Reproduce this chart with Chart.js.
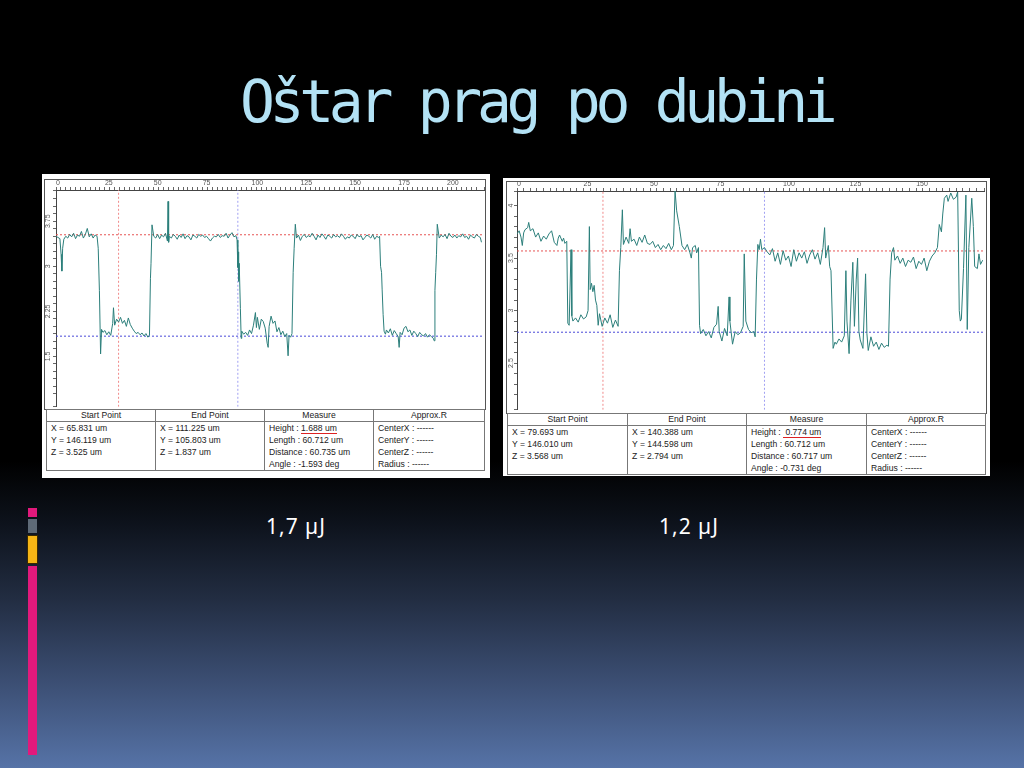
<!DOCTYPE html>
<html>
<head>
<meta charset="utf-8">
<script src="https://cdn.jsdelivr.net/npm/chart.js"></script>
<style>
  html, body { margin: 0; padding: 0; }
  body {
    width: 1024px; height: 768px; position: relative; overflow: hidden;
    background: linear-gradient(to bottom, #000 0%, #000 60%, #0d121b 68%, #222d42 78%, #3c4f74 89%, #5673a7 100%);
    font-family: "Liberation Sans", Arial, sans-serif;
  }
  .title {
    position: absolute; left: 240px; top: 73px;
    font-family: "DejaVu Sans Mono", monospace; font-size: 58px; line-height: 58px;
    letter-spacing: -5.3px; color: #b3e2f5; white-space: nowrap;
  }
  .panel { position: absolute; background: #fff; }
  .frame { position: absolute; border: 1px solid #555; box-sizing: border-box; }
  canvas { position: absolute; }
  table.meas {
    position: absolute; border-collapse: collapse; font-size: 8.6px; color: #222;
    table-layout: fixed; background: #fff;
  }
  table.meas td, table.meas th { border-left: 1px solid #777; border-right: 1px solid #777; padding: 0 4px; vertical-align: top; white-space: nowrap; }
  table.meas th { font-weight: normal; text-align: center; border: 1px solid #777; height: 11px; line-height: 11px; }
  table.meas td { line-height: 12px; padding-top: 0; }
  table.meas tr.body td { border-bottom: 1px solid #777; }
  .ul { border-bottom: 1px solid #d22; }
  .cap { position: absolute; color: #fff; font-family: "Noto Sans", sans-serif; font-size: 21px; line-height: 22px; letter-spacing: 1px; }
  .deco { position: absolute; }
</style>
</head>
<body>
<div class="title">Oštar prag po dubini</div>

<div class="deco" style="left:28px;top:508px;width:9px;height:9px;background:#e2197c"></div>
<div class="deco" style="left:28px;top:519px;width:9px;height:14px;background:#5e6a77"></div>
<div class="deco" style="left:28px;top:536px;width:9px;height:27px;background:#f6b515;box-shadow:0 0 0 1px #3a2a00"></div>
<div class="deco" style="left:28px;top:566px;width:9px;height:189px;background:#e2197c"></div>

<div class="panel" style="left:42px;top:174px;width:448px;height:304px"></div>
<div class="frame" style="left:44px;top:179px;width:442px;height:231px"></div>
<canvas id="leftChart" width="442" height="230" style="left:44px;top:179px"></canvas>
<table class="meas" style="left:46px;top:409px;width:438px">
  <colgroup><col style="width:109px"><col style="width:109px"><col style="width:109px"><col style="width:111px"></colgroup>
  <tr><th>Start Point</th><th>End Point</th><th>Measure</th><th>Approx.R</th></tr>
  <tr class="body">
    <td>X = 65.831 um<br>Y = 146.119 um<br>Z = 3.525 um<br>&nbsp;</td>
    <td>X = 111.225 um<br>Y = 105.803 um<br>Z = 1.837 um<br>&nbsp;</td>
    <td>Height : <span class="ul">1.688 um</span><br>Length : 60.712 um<br>Distance : 60.735 um<br>Angle : -1.593 deg</td>
    <td>CenterX : ------<br>CenterY : ------<br>CenterZ : ------<br>Radius : ------</td>
  </tr>
</table>

<div class="panel" style="left:503px;top:178px;width:487px;height:298px"></div>
<div class="frame" style="left:506px;top:181px;width:481px;height:233px"></div>
<canvas id="rightChart" width="481" height="232" style="left:505px;top:180px"></canvas>
<table class="meas" style="left:507px;top:413px;width:478px">
  <colgroup><col style="width:120px"><col style="width:119px"><col style="width:120px"><col style="width:119px"></colgroup>
  <tr><th>Start Point</th><th>End Point</th><th>Measure</th><th>Approx.R</th></tr>
  <tr class="body">
    <td>X = 79.693 um<br>Y = 146.010 um<br>Z = 3.568 um<br>&nbsp;</td>
    <td>X = 140.388 um<br>Y = 144.598 um<br>Z = 2.794 um<br>&nbsp;</td>
    <td>Height : <span class="ul">&nbsp;0.774 um</span><br>Length : 60.712 um<br>Distance : 60.717 um<br>Angle : -0.731 deg</td>
    <td>CenterX : ------<br>CenterY : ------<br>CenterZ : ------<br>Radius : ------</td>
  </tr>
</table>

<div class="cap" style="left:266px;top:515px">1,7 µJ</div>
<div class="cap" style="left:659px;top:515px">1,2 µJ</div>

<script>
// profile readings, [position, height]
var leftProfile = [
  [0,3.50],[1,3.48],[2,3.46],[2.6,3.2],[3,2.92],[3.4,3.3],[4,3.45],[5,3.50],[6,3.47],[7,3.53],[8,3.49],[9,3.55],
  [10,3.46],[11,3.52],[12,3.50],[13,3.58],[14,3.47],[15,3.53],[16,3.63],[17,3.49],[18,3.54],[19,3.47],[20,3.52],
  [21,3.50],[21.6,3.30],[22.2,2.60],[22.8,1.54],[23.3,1.95],[24,1.90],[25,1.93],[26,1.86],[27,1.91],[28,1.85],
  [29,2.05],[29.4,2.31],[30,2.02],[31,2.12],[32,2.07],[33,2.15],[34,2.05],[35,2.10],[36,2.00],[37,2.14],[38,2.03],
  [39,1.97],[40,1.92],[41,1.88],[42,1.90],[43,1.86],[44,1.89],[45,1.84],[46,1.88],[47,1.82],[47.8,1.85],
  [48.3,2.8],[48.6,3.05],[49.1,3.69],[50,3.50],[51,3.47],[52,3.53],[53,3.46],[54,3.52],[55,3.49],[56,3.55],
  [57,3.42],[57.3,4.08],[57.6,3.40],[58,3.50],[59,3.47],[60,3.53],[61,3.50],[62,3.45],[63,3.52],[64,3.48],
  [65,3.54],[66,3.46],[67,3.51],[68,3.49],[69,3.44],[70,3.52],[71,3.50],[72,3.47],[73,3.53],[74,3.50],[75,3.52],
  [76,3.48],[77,3.50],[78,3.46],[79,3.42],[80,3.47],[81,3.50],[82,3.49],[83,3.53],[84,3.48],[85,3.51],[86,3.50],
  [87,3.55],[88,3.47],[89,3.52],[90,3.56],[91,3.49],[92,3.51],[92.6,3.44],[93,2.98],[93.2,3.24],[93.4,2.75],
  [93.7,3.05],[94.3,2.30],[94.7,1.80],[95,1.92],[96,1.87],[97,1.90],[98,1.85],[99,1.94],[100,1.88],[101,2.02],
  [102,2.23],[102.5,1.98],[103,2.15],[104,1.95],[105,2.12],[106,2.08],[107,1.97],[108,1.72],[108.5,1.65],
  [109,2.00],[110,2.17],[111,2.05],[112,2.09],[113,1.91],[114,1.98],[115,1.86],[116,1.92],[117,1.83],[118,1.88],
  [118.7,1.51],[119.2,1.85],[120,1.82],[120.7,1.88],[121.3,2.9],[121.8,3.3],[122.4,3.70],[123,3.47],[124,3.52],
  [125,3.43],[126,3.50],[127,3.53],[128,3.48],[129,3.51],[130,3.49],[131,3.55],[132,3.50],[133,3.44],[134,3.52],
  [135,3.48],[136,3.54],[137,3.50],[138,3.45],[139,3.52],[140,3.50],[141,3.47],[142,3.53],[143,3.49],[144,3.51],
  [145,3.48],[146,3.54],[147,3.50],[148,3.45],[149,3.49],[150,3.47],[151,3.52],[152,3.50],[153,3.46],[154,3.53],
  [155,3.49],[156,3.51],[157,3.44],[158,3.48],[159,3.52],[160,3.50],[161,3.47],[162,3.53],[163,3.45],[164,3.50],
  [165,3.48],[165.5,3.50],[166,3.0],[166.5,2.9],[166.8,2.62],[167.3,2.20],[167.8,1.92],[168.5,1.87],[169,1.94],
  [170,1.89],[171,1.96],[172,1.85],[173,1.93],[174,1.88],[175,1.83],[175.5,1.65],[176,1.90],[177,1.86],[178,1.97],
  [179,2.00],[180,1.91],[181,1.94],[182,1.85],[183,1.92],[184,1.88],[185,1.83],[186,1.90],[187,1.86],[188,1.84],
  [189,1.88],[190,1.82],[191,1.86],[192,1.83],[193,1.80],[193.4,1.76],[193.8,2.6],[194.2,2.90],[194.6,3.2],
  [195,3.70],[196,3.47],[197,3.52],[198,3.49],[199,3.53],[200,3.46],[201,3.55],[202,3.50],[203,3.48],[204,3.52],
  [205,3.47],[206,3.51],[207,3.49],[208,3.54],[209,3.48],[210,3.50],[211,3.45],[212,3.52],[213,3.49],[214,3.47],
  [215,3.53],[216,3.50],[217,3.48],[217.6,3.40]
];
var rightProfile = [
  [0,3.73],[0.8,3.76],[1.5,3.70],[2,3.62],[2.5,3.74],[3,3.77],[4,3.79],[4.4,3.84],[5,3.76],[6,3.78],[7,3.70],
  [8,3.74],[9,3.66],[10,3.71],[11,3.68],[12,3.73],[13,3.76],[14,3.65],[15,3.62],[15.5,3.69],[16,3.72],[17,3.66],
  [17.5,3.69],[18,3.64],[18.7,3.66],[19.1,2.88],[19.6,2.86],[20.3,3.58],[20.6,2.95],[21,2.90],[22,2.93],[23,2.89],
  [24,2.96],[25,2.92],[26,2.94],[26.7,3.00],[27.2,3.80],[27.5,3.20],[28,3.26],[28.5,3.18],[29,3.24],[29.5,3.10],
  [30,3.05],[30.5,2.86],[31,2.97],[32,2.85],[33,2.93],[34,2.88],[35,2.96],[36,2.84],[37,2.91],[38,2.85],
  [38.5,3.38],[39,3.60],[39.6,3.96],[40,3.63],[41,3.70],[42,3.64],[42.5,3.78],[43,3.66],[44,3.68],[45,3.62],
  [46,3.70],[47,3.65],[48,3.72],[49,3.64],[50,3.63],[51,3.66],[52,3.60],[53,3.63],[54,3.58],[55,3.62],[56,3.59],
  [57,3.64],[58,3.58],[58.8,3.62],[59.4,4.14],[60,3.95],[61,3.80],[62,3.62],[63,3.58],[64,3.63],[65,3.55],
  [65.5,3.50],[66,3.60],[67,3.62],[67.5,3.55],[68.2,3.60],[68.6,2.86],[69,2.78],[70,2.82],[71,2.76],[72,2.80],
  [73,2.74],[74,2.84],[75,2.87],[75.6,3.04],[76,2.80],[77,2.71],[78,2.83],[79,2.76],[79.7,3.13],[80,2.90],
  [81,2.68],[82,2.80],[83,2.77],[84,2.79],[85,2.85],[85.4,3.54],[86,2.90],[87,2.82],[88,2.79],[89,2.80],
  [89.5,2.75],[90,3.30],[90.5,3.63],[91,3.58],[91.5,3.68],[92,3.58],[93,3.60],[94,3.56],[95,3.53],[96,3.59],
  [97,3.47],[98,3.55],[99,3.44],[100,3.57],[101,3.48],[102,3.52],[103,3.42],[104,3.58],[105,3.47],[106,3.55],
  [107,3.50],[108,3.56],[109,3.45],[110,3.53],[111,3.58],[112,3.49],[113,3.55],[114,3.44],[115,3.60],[115.6,3.79],
  [116,3.50],[117,3.62],[117.5,3.42],[118,3.38],[118.8,2.64],[119.5,2.70],[120,2.68],[121,2.73],[122,2.70],
  [123,2.76],[123.6,3.38],[124,2.90],[124.8,2.59],[125.5,3.10],[126.2,3.46],[126.8,2.85],[127.5,3.30],[128,3.50],
  [128.5,2.80],[129,2.72],[130,2.64],[131,3.35],[131.5,2.78],[132,2.62],[133,2.75],[134,2.66],[135,2.70],
  [136,2.63],[137,2.69],[138,2.65],[139,2.67],[139.6,2.66],[140.2,3.30],[140.8,3.55],[141.5,3.60],[142,3.48],
  [143,3.52],[144,3.45],[145,3.50],[146,3.42],[147,3.48],[148,3.46],[149,3.51],[150,3.40],[151,3.47],[152,3.44],
  [153,3.50],[154,3.38],[155,3.47],[156,3.52],[157,3.55],[158,3.60],[158.7,3.82],[159.5,3.75],[160,3.92],
  [160.6,4.07],[161.5,4.10],[162,4.04],[163,4.12],[164,4.06],[165,4.08],[165.6,4.13],[166.2,3.00],[166.6,2.90],
  [167,2.92],[167.8,3.40],[168.7,4.10],[169.2,2.82],[169.8,3.60],[170.9,4.07],[171.5,3.80],[172,3.42],[173,3.40],
  [173.6,3.54],[174.2,3.44],[175,3.48]
];

// cursor positions (x) and measured heights (z)
var leftCursorX = [32, 93];
var leftCursorZ = [3.525, 1.837];
var rightCursorX = [32.3, 93];
var rightCursorZ = [3.568, 2.794];

// axis ranges and tick label spacing
var leftXRange = [0, 218.9];
var leftYRange = [0.661, 4.27];
var leftYLabelStep = 0.75;
var leftYMinor = 0.125;
var rightXRange = [0, 175.5];
var rightYRange = [2.055, 4.139];
var rightYLabelStep = 0.5;
var rightYMinor = 0.1;
var xLabelStep = 25;
var xMinor = 2.5;

function onStep(v, step) {
    var r = v / step;
    return Math.abs(r - Math.round(r)) < 1e-6;
}

function makeChart(id, profile, cx, cz, xr, yr, yStep, yMinor, pad) {
    var ctx = document.getElementById(id).getContext('2d');
    var line = function (pts, color, dash, order) {
        return {
            data: pts, borderColor: color, borderWidth: 1, borderDash: dash,
            pointRadius: 0, showLine: true, order: order, fill: false
        };
    };
    return new Chart(ctx, {
        type: 'scatter',
        data: {
            datasets: [
                line(profile.map(function (p) { return {x: p[0], y: p[1]}; }), '#2c7f7b', [], 1),
                line([{x: xr[0], y: cz[0]}, {x: xr[1], y: cz[0]}], '#e65555', [2, 2], 2),
                line([{x: xr[0], y: cz[1]}, {x: xr[1], y: cz[1]}], '#4a4ad8', [2, 2], 2),
                line([{x: cx[0], y: yr[0]}, {x: cx[0], y: yr[1]}], '#f08a8a', [2, 2], 3),
                line([{x: cx[1], y: yr[0]}, {x: cx[1], y: yr[1]}], '#a0a0f2', [2, 2], 3)
            ]
        },
        options: {
            responsive: false,
            animation: false,
            devicePixelRatio: 1,
            layout: {padding: pad},
            plugins: {legend: {display: false}, tooltip: {enabled: false}},
            scales: {
                x: {
                    type: 'linear', position: 'top', min: xr[0], max: xr[1],
                    afterFit: function (s) { s.height = 11; },
                    border: {display: true, color: '#444'},
                    grid: {drawOnChartArea: false, tickLength: 3, color: '#666'},
                    ticks: {
                        stepSize: xMinor, autoSkip: false, maxRotation: 0, align: 'start', padding: 0,
                        color: '#555', font: {size: 7, family: 'Liberation Sans'},
                        callback: function (v) { return onStep(v, xLabelStep) ? v : ''; }
                    }
                },
                y: {
                    type: 'linear', position: 'left', min: yr[0], max: yr[1],
                    afterFit: function (s) { s.width = 11; },
                    border: {display: true, color: '#444'},
                    grid: {drawOnChartArea: false, tickLength: 3, color: '#666'},
                    ticks: {
                        stepSize: yMinor, autoSkip: false, minRotation: 90, maxRotation: 90,
                        crossAlign: 'center', padding: -2,
                        color: '#555', font: {size: 7, family: 'Liberation Sans'},
                        callback: function (v) { return onStep(v, yStep) ? v : ''; }
                    }
                }
            }
        }
    });
}

makeChart('leftChart', leftProfile, leftCursorX, leftCursorZ, leftXRange, leftYRange,
    leftYLabelStep, leftYMinor, {left: 1, right: 2, top: 0, bottom: 1});
makeChart('rightChart', rightProfile, rightCursorX, rightCursorZ, rightXRange, rightYRange,
    rightYLabelStep, rightYMinor, {left: 1, right: 2, top: 0, bottom: 1});
</script>
</body>
</html>
